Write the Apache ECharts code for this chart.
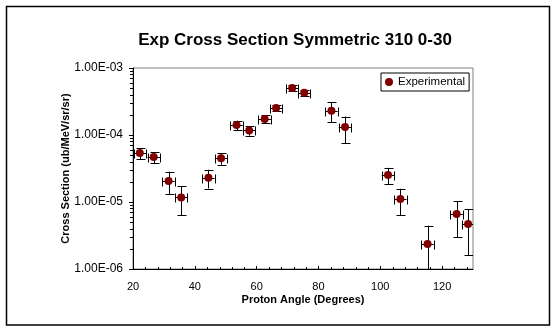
<!DOCTYPE html>
<html>
<head>
<meta charset="utf-8">
<script src="https://cdn.jsdelivr.net/npm/echarts@6/dist/echarts.min.js"></script>
<style>
  html, body { margin: 0; padding: 0; background: #fff; }
  #chart { width: 558px; height: 334px; }
</style>
</head>
<body>
<div id="chart"></div>
<script>
// Measured proton angles (degrees)
const angles = [22.2, 26.7, 31.5, 35.6, 44.4, 48.5, 53.5, 57.6, 62.6, 66.3,
                71.5, 75.4, 84.2, 88.6, 102.5, 106.5, 115.3, 124.7, 128.4];
// Cross section (ub/MeV/sr/sr)
const crossSection = [5.38e-5, 4.7e-5, 2.06e-5, 1.17e-5, 2.31e-5, 4.48e-5, 1.41e-4, 1.17e-4, 1.73e-4, 2.53e-4,
                      5.03e-4, 4.28e-4, 2.31e-4, 1.32e-4, 2.53e-5, 1.11e-5, 2.36e-6, 6.62e-6, 4.7e-6];
// Symmetric uncertainty of the cross section
const crossSectionErr = [1.0e-5, 8.9e-6, 7.6e-6, 5.35e-6, 7.2e-6, 8.7e-6, 2.3e-5, 1.9e-5, 2.25e-5, 2.75e-5,
                         4.55e-5, 4.85e-5, 7.7e-5, 5.65e-5, 7.05e-6, 4.7e-6, 2.07e-6, 3.65e-6, 3.1e-6];
// Angular half-width of each bin (degrees)
const angleErr = [2, 2, 2, 2, 2, 2, 2, 2, 2, 2, 2, 2, 2, 2, 2, 2, 2, 2, 2];

// Axis tick labels
const xTickLabels = ['20', '40', '60', '80', '100', '120'];
const yTickLabels = ['1.00E-06', '1.00E-05', '1.00E-04', '1.00E-03'];

const FONT = 'Liberation Sans, Arial, Helvetica, sans-serif';
const X_MIN = 20, X_MAX = 130, Y_MIN = 1e-6, Y_MAX = 1e-3;

const points = angles.map((a, i) => [a, crossSection[i]]);
const errRows = angles.map((a, i) => [a, crossSection[i], crossSectionErr[i], angleErr[i]]);

// Minor tick positions on the log axis (2..9 within each decade)
const yMinor = [];
for (let e = -6; e < -3; e++) {
  for (let m = 2; m <= 9; m++) yMinor.push([X_MIN, m * Math.pow(10, e)]);
}
// Minor tick positions on the angle axis (every 4 degrees)
const xMinor = [];
for (let v = X_MIN + 4; v < X_MAX; v += 4) {
  if (v % 20 !== 0) xMinor.push([v, Y_MIN]);
}

const crisp = v => Math.round(v) + 0.5;

function renderErrorBar(params, api) {
  const x = api.value(0), y = api.value(1), ey = api.value(2), ex = api.value(3);
  const c = api.coord([x, y]);
  const top = api.coord([x, y + ey]);
  const low = y - ey;
  const bot = api.coord([x, low > 0 ? low : Y_MIN / 100]);
  const left = api.coord([x - ex, y]);
  const right = api.coord([x + ex, y]);
  const cx = crisp(c[0]), cy = crisp(c[1]);
  const cap = 4;
  const style = { stroke: '#000', lineWidth: 1, fill: null };
  const kids = [
    { type: 'line', shape: { x1: cx, y1: top[1], x2: cx, y2: bot[1] }, style },
    { type: 'line', shape: { x1: cx - cap, y1: crisp(top[1]), x2: cx + cap + 1, y2: crisp(top[1]) }, style },
    { type: 'line', shape: { x1: left[0], y1: cy, x2: right[0], y2: cy }, style },
    { type: 'line', shape: { x1: crisp(left[0]), y1: cy - cap, x2: crisp(left[0]), y2: cy + cap + 1 }, style },
    { type: 'line', shape: { x1: crisp(right[0]), y1: cy - cap, x2: crisp(right[0]), y2: cy + cap + 1 }, style }
  ];
  if (low > Y_MIN) {
    kids.push({ type: 'line', shape: { x1: cx - cap, y1: crisp(bot[1]), x2: cx + cap + 1, y2: crisp(bot[1]) }, style });
  }
  return { type: 'group', children: kids };
}

function renderYMinor(params, api) {
  const p = api.coord([api.value(0), api.value(1)]);
  const y = crisp(p[1]);
  return { type: 'line', shape: { x1: p[0] - 3, y1: y, x2: p[0], y2: y },
           style: { stroke: '#000', lineWidth: 1 } };
}

function renderXMinor(params, api) {
  const p = api.coord([api.value(0), api.value(1)]);
  const x = crisp(p[0]);
  return { type: 'line', shape: { x1: x, y1: p[1], x2: x, y2: p[1] - 2 },
           style: { stroke: '#000', lineWidth: 1 } };
}

const chart = echarts.init(document.getElementById('chart'), null, { renderer: 'canvas' });

chart.setOption({
  backgroundColor: '#fff',
  animation: false,
  textStyle: { fontFamily: FONT },
  graphic: [
    { type: 'rect', shape: { x: 6.5, y: 6.5, width: 543, height: 318.5 },
      style: { fill: null, stroke: '#000', lineWidth: 1.5 }, silent: true, z: 100 },
    { type: 'text', x: 295, y: 40,
      style: { text: 'Exp Cross Section Symmetric 310 0-30', fill: '#000',
               font: 'bold 17px ' + FONT, textAlign: 'center', textVerticalAlign: 'middle' } }
  ],
  grid: {
    left: 133, top: 68, width: 340, height: 201,
    show: true, borderColor: '#808080', borderWidth: 1, backgroundColor: '#fff'
  },
  legend: {
    data: ['Experimental'],
    left: 381, top: 73,
    orient: 'vertical',
    icon: 'circle', itemWidth: 8, itemHeight: 8,
    padding: [3, 4, 3, 4],
    borderColor: '#000', borderWidth: 1, backgroundColor: '#fff',
    textStyle: { fontFamily: FONT, fontSize: 11.5, color: '#000' }
  },
  xAxis: {
    type: 'value', min: X_MIN, max: X_MAX, interval: 20,
    name: 'Proton Angle (Degrees)', nameLocation: 'middle', nameGap: 25, nameMoveOverlap: false,
    nameTextStyle: { fontFamily: FONT, fontSize: 11, fontWeight: 'bold', color: '#000' },
    axisLine: { show: true, lineStyle: { color: '#000', width: 1 } },
    axisTick: { show: true, inside: true, length: 3, lineStyle: { color: '#000' } },
    splitLine: { show: false },
    axisLabel: {
      margin: 12, showMaxLabel: false, color: '#000', fontFamily: FONT, fontSize: 11,
      formatter: v => xTickLabels[Math.round((v - X_MIN) / 20)] || ''
    }
  },
  yAxis: {
    type: 'log', logBase: 10, min: Y_MIN, max: Y_MAX,
    name: 'Cross Section (ub/MeV/sr/sr)', nameLocation: 'middle', nameGap: 62, nameRotate: 90,
    nameMoveOverlap: false,
    nameTextStyle: { fontFamily: FONT, fontSize: 11, fontWeight: 'bold', color: '#000' },
    axisLine: { show: true, lineStyle: { color: '#000', width: 1 } },
    axisTick: { show: true, inside: false, length: 4, lineStyle: { color: '#000' } },
    splitLine: { show: false },
    axisLabel: {
      margin: 10, color: '#000', fontFamily: FONT, fontSize: 12,
      formatter: v => yTickLabels[Math.round(Math.log10(v)) + 6] || ''
    }
  },
  series: [
    { type: 'custom', name: 'errors', data: errRows, renderItem: renderErrorBar,
      clip: true, silent: true, z: 2 },
    { type: 'scatter', name: 'Experimental', data: points, symbol: 'circle', symbolSize: 8,
      itemStyle: { color: '#800000', opacity: 1 }, z: 3, silent: true },
    { type: 'custom', name: 'yMinor', data: yMinor, renderItem: renderYMinor,
      clip: false, silent: true, z: 4 },
    { type: 'custom', name: 'xMinor', data: xMinor, renderItem: renderXMinor,
      clip: false, silent: true, z: 4 }
  ]
});
</script>
</body>
</html>
